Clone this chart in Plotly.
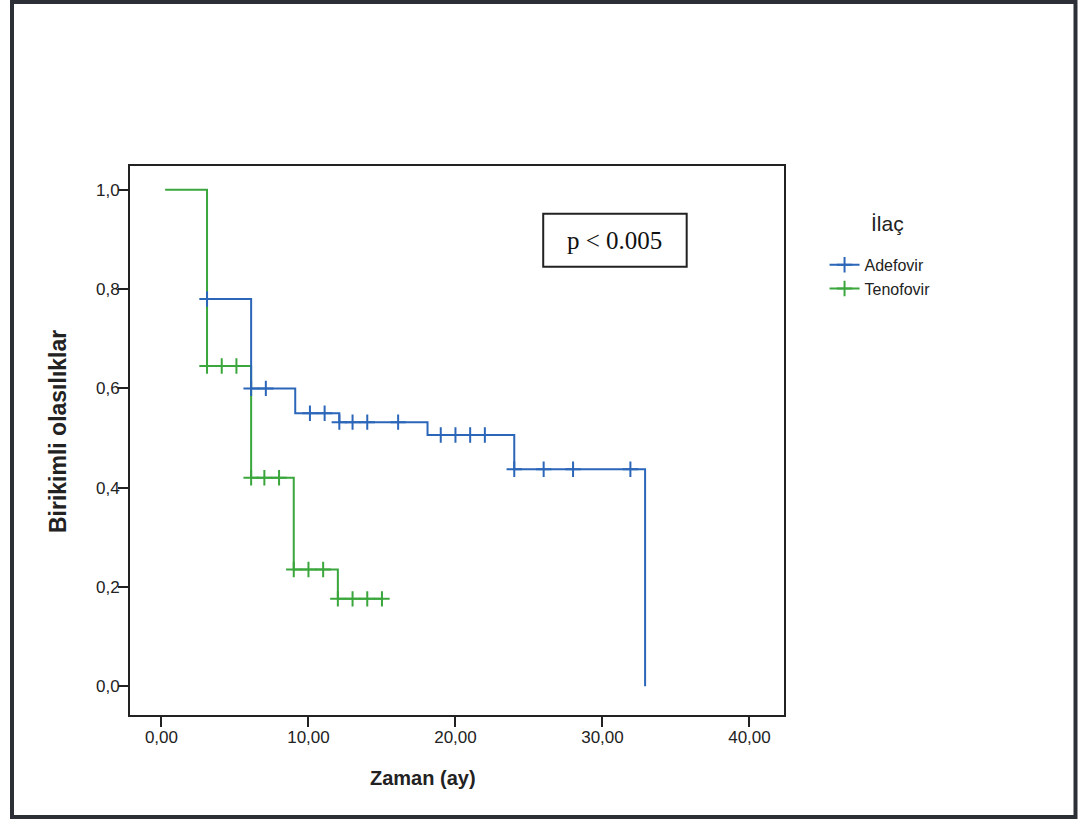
import plotly.graph_objects as go

# ---- data (Kaplan-Meier curves) ----
ade_times = [3.1, 6.1, 9.1, 12.1, 18.1, 24.0, 32.9]
ade_surv = [0.78, 0.60, 0.55, 0.532, 0.506, 0.437, 0.0]
ade_cens_t = [3.1, 6.1, 7.1, 10.1, 11.1, 12.1, 13.0, 14.0, 16.1,
              19.0, 20.0, 21.0, 22.0, 24.0, 26.0, 28.0, 31.9]
ade_cens_s = [0.78, 0.60, 0.60, 0.55, 0.55, 0.532, 0.532, 0.532, 0.532,
              0.506, 0.506, 0.506, 0.506, 0.437, 0.437, 0.437, 0.437]

ten_times = [0.25, 3.1, 6.1, 9.0, 12.0, 15.0]
ten_surv = [1.0, 0.645, 0.42, 0.235, 0.176, 0.176]
ten_cens_t = [3.1, 4.1, 5.1, 6.1, 7.0, 8.0, 9.0, 10.0, 11.0, 12.0, 13.0, 14.0, 15.0]
ten_cens_s = [0.645, 0.645, 0.645, 0.42, 0.42, 0.42, 0.235, 0.235, 0.235,
              0.176, 0.176, 0.176, 0.176]

x_ticks = [0, 10, 20, 30, 40]
x_labels = ["0,00", "10,00", "20,00", "30,00", "40,00"]
y_ticks = [0, 0.2, 0.4, 0.6, 0.8, 1.0]
y_labels = ["0,0", "0,2", "0,4", "0,6", "0,8", "1,0"]

series_names = ["Adefovir", "Tenofovir"]
BLUE = "#2b66b9"
GREEN = "#3aa63c"
FONT = "Liberation Sans, Arial, sans-serif"

fig = go.Figure()

# Tenofovir drawn first (Adefovir on top)
fig.add_trace(go.Scatter(x=ten_times, y=ten_surv, mode="lines",
                         line=dict(color=GREEN, width=2, shape="hv"),
                         showlegend=False, hoverinfo="skip"))
fig.add_trace(go.Scatter(x=ten_cens_t, y=ten_cens_s, mode="markers",
                         marker=dict(symbol="cross-thin", size=11,
                                     line=dict(color=GREEN, width=2)),
                         showlegend=False, hoverinfo="skip"))
fig.add_trace(go.Scatter(x=ade_times, y=ade_surv, mode="lines",
                         line=dict(color=BLUE, width=2, shape="hv"),
                         showlegend=False, hoverinfo="skip"))
fig.add_trace(go.Scatter(x=ade_cens_t, y=ade_cens_s, mode="markers",
                         marker=dict(symbol="cross-thin", size=11,
                                     line=dict(color=BLUE, width=2)),
                         showlegend=False, hoverinfo="skip"))

# legend entries
for i, (nm, col) in enumerate(zip(series_names, [BLUE, GREEN])):
    fig.add_trace(go.Scatter(x=[None], y=[None], mode="lines+markers", name=nm,
                             legendrank=i + 1,
                             line=dict(color=col, width=2),
                             marker=dict(symbol="cross-thin", size=11,
                                         line=dict(color=col, width=2))))

fig.update_layout(
    width=1082, height=820,
    margin=dict(l=130, r=298, t=166, b=105),
    paper_bgcolor="white", plot_bgcolor="white",
    font=dict(family=FONT, color="#222"),
    legend=dict(
        x=1.062, y=0.851, xanchor="left", yanchor="top",
        font=dict(size=16, color="#222"),
        itemwidth=30, bgcolor="rgba(0,0,0,0)",
    ),
    showlegend=True,
)

fig.update_xaxes(range=[-2.14, 42.35], tickvals=x_ticks, ticktext=x_labels,
                 showgrid=False, zeroline=False, showline=True, mirror=True,
                 linecolor="#222", linewidth=2, ticks="outside", ticklen=10,
                 tickwidth=2, tickcolor="#222", tickfont=dict(size=17),
                 ticklabelstandoff=-4)
fig.update_yaxes(range=[-0.058, 1.048], tickvals=y_ticks, ticktext=y_labels,
                 showgrid=False, zeroline=False, showline=True, mirror=True,
                 linecolor="#222", linewidth=2, ticks="outside", ticklen=10,
                 tickwidth=2, tickcolor="#222", tickfont=dict(size=17),
                 ticklabelstandoff=-5)

# legend title
fig.add_annotation(text="İlaç", xref="paper", yref="paper",
                   x=1.159, y=0.896, xanchor="center", yanchor="middle",
                   showarrow=False, font=dict(size=21, color="#222"))

# axis titles
fig.add_annotation(text="<b>Zaman (ay)</b>", xref="paper", yref="paper",
                   x=0.448, y=-0.115, xanchor="center", yanchor="middle",
                   showarrow=False, font=dict(size=20, color="#222"))
fig.add_annotation(text="<b>Birikimli olasılıklar</b>", xref="paper", yref="paper",
                   x=-0.110, y=0.5155, xanchor="center", yanchor="middle",
                   textangle=-90, showarrow=False, font=dict(size=23, color="#222"))

# p-value box
fig.add_shape(type="rect", xref="x", yref="y", x0=25.97, x1=35.73, y0=0.845, y1=0.952,
              line=dict(color="#222", width=2), fillcolor="white", layer="above")
fig.add_annotation(text="p < 0.005", xref="x", yref="y", x=30.85, y=0.898,
                   showarrow=False, font=dict(family="Liberation Serif, Times New Roman, serif",
                                              size=25, color="#111"))

# outer page border
fig.add_shape(type="rect", xref="paper", yref="paper",
              x0=(12 - 130) / 654, x1=(1075.5 - 130) / 654,
              y0=(715 - 817) / 549, y1=(715 - 2) / 549,
              line=dict(color="#2c3036", width=4))

fig.write_html("out.html", config={"displayModeBar": False},
               post_script="document.body.style.margin='0';")
